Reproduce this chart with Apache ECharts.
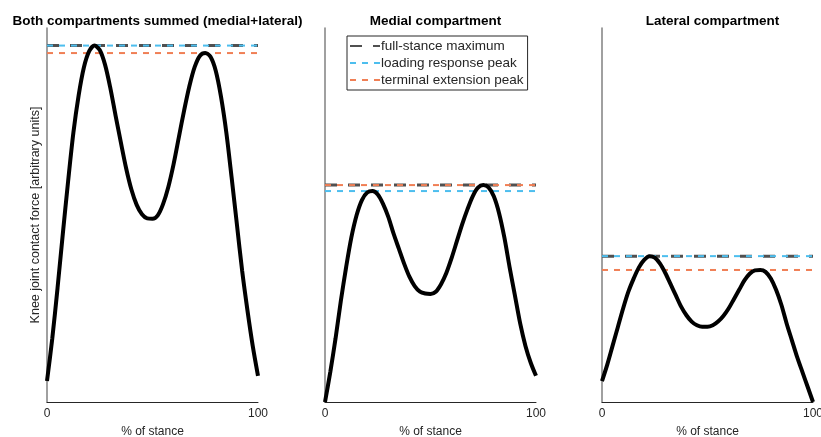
<!DOCTYPE html>
<html>
<head>
<meta charset="utf-8">
<script src="https://cdn.jsdelivr.net/npm/echarts@6/dist/echarts.min.js"></script>
<style>
  html, body { margin: 0; padding: 0; background: #fff; overflow: hidden; }
  #chart { width: 821px; height: 437px; }
</style>
</head>
<body>
<div id="chart"></div>
<script>
// Percent of stance at which each force sample is taken
const stance = [0, 2.5, 5, 7.5, 10, 12.5, 15, 17.5, 20, 22.5, 25, 27.5, 30, 32.5, 35, 37.5, 40,
  42.5, 45, 47.5, 50, 52.5, 55, 57.5, 60, 62.5, 65, 67.5, 70, 72.5, 75, 77.5, 80, 82.5, 85,
  87.5, 90, 92.5, 95, 97.5, 100];

// Knee joint contact force (arbitrary units)
const summedForce = [5.6, 17.0, 30.5, 45.0, 59.0, 72.0, 82.0, 89.5, 93.8, 95.3, 94.1, 90.2, 84.0,
  76.6, 69.4, 62.5, 56.8, 52.7, 50.2, 49.1, 49.0, 49.9, 52.9, 57.5, 63.6, 70.8, 78.0, 84.5, 89.6,
  92.6, 93.3, 92.3, 88.5, 81.5, 72.0, 60.0, 47.5, 35.0, 24.5, 15.0, 7.0];
const medialForce = [0, 8, 17, 27, 36, 44, 50, 54, 56, 56.4, 55.5, 53, 49.5, 45, 41, 37, 33.5,
  31, 29.5, 29, 28.9, 29.5, 31.5, 34.5, 38.5, 43, 47.5, 51.5, 55, 57.3, 58, 57.4, 55, 50.5, 44,
  36, 28.5, 21, 15, 10.5, 7];
const lateralForce = [5.6, 10, 15, 20, 25, 29.5, 33, 36, 38, 39, 38.6, 37, 34.5, 31.5, 28.5,
  25.5, 23.2, 21.5, 20.5, 20.1, 20.1, 20.5, 21.5, 23, 25, 27.5, 30, 32.5, 34.3, 35.2, 35.3, 34.8,
  33, 30, 26, 21, 16.5, 12, 8, 4, 0];

// Reference levels per panel: [summed, medial, lateral]
const fullStanceMax = [95.3, 58.0, 39.0];
const loadingResponsePeak = [95.3, 56.4, 39.0];
const terminalExtensionPeak = [93.3, 58.0, 35.3];

const panelTitles = ['Both compartments summed (medial+lateral)', 'Medial compartment', 'Lateral compartment'];
const xTickLabels = ['0', '100'];
const xAxisTitle = '% of stance';
const yAxisTitle = 'Knee joint contact force [arbitrary units]';
const legendNames = ['full-stance maximum', 'loading response peak', 'terminal extension peak'];

const curves = [summedForce, medialForce, lateralForce];
const FONT = 'Liberation Sans, Arial, Helvetica, sans-serif';
const panelLeft = [47, 325, 602];
const panelWidth = 211;

const grids = [], xAxes = [], yAxes = [], series = [], titles = [];

panelLeft.forEach((left, i) => {
  grids.push({
    left: left, width: panelWidth, top: 28, bottom: 35,
    containLabel: false, outerBoundsMode: 'none'
  });
  titles.push({
    text: panelTitles[i],
    left: left + panelWidth / 2,
    top: 9,
    textAlign: 'center',
    textStyle: { fontFamily: FONT, fontSize: 13.5, fontWeight: 'bold', color: '#000' }
  });
  xAxes.push({
    type: 'value', gridIndex: i, min: 0, max: 100, interval: 100,
    name: xAxisTitle, nameLocation: 'middle', nameGap: 24,
    nameTextStyle: { fontFamily: FONT, fontSize: 12, color: '#262626' },
    axisLine: { lineStyle: { color: '#262626', width: 1 } },
    axisTick: { show: false },
    splitLine: { show: false },
    axisLabel: {
      fontFamily: FONT, fontSize: 12, color: '#262626', margin: 6,
      formatter: v => (v === 0 ? xTickLabels[0] : xTickLabels[1])
    }
  });
  yAxes.push({
    type: 'value', gridIndex: i, min: 0, max: 100,
    name: i === 0 ? yAxisTitle : '', nameLocation: 'middle', nameGap: 5, nameRotate: 90,
    nameTextStyle: { fontFamily: FONT, fontSize: 12.5, color: '#262626' },
    axisLine: { show: true, onZero: false, lineStyle: { color: '#808080', width: 1.5 } },
    axisTick: { show: false },
    axisLabel: { show: false },
    splitLine: { show: false }
  });

  const levelLine = (name, val, color, width, dash, z) => ({
    name: name, type: 'line', xAxisIndex: i, yAxisIndex: i,
    data: [[0, val], [100, val]], symbol: 'none', silent: true, z: z,
    lineStyle: { color: color, width: width, type: dash },
    itemStyle: { color: color }
  });
  series.push(levelLine(legendNames[0], fullStanceMax[i], '#505050', 3, [12, 11], 3));
  series.push(levelLine(legendNames[1], loadingResponsePeak[i], '#4DBEEE', 2, [6, 6], 4));
  series.push(levelLine(legendNames[2], terminalExtensionPeak[i], '#F07F55', 2, [6, 6], 5));

  series.push({
    type: 'line', xAxisIndex: i, yAxisIndex: i, smooth: 0.3, symbol: 'none', z: 6,
    data: stance.map((s, k) => [s, curves[i][k]]),
    lineStyle: { color: '#000', width: 4 }
  });
});

const chart = echarts.init(document.getElementById('chart'), null, { renderer: 'canvas' });
chart.setOption({
  animation: false,
  backgroundColor: '#fff',
  title: titles,
  grid: grids,
  xAxis: xAxes,
  yAxis: yAxes,
  legend: {
    data: legendNames,
    orient: 'vertical',
    left: 347, top: 36,
    itemWidth: 30, itemHeight: 12, itemGap: 3,
    padding: [3, 4, 3, 2],
    borderColor: '#262626', borderWidth: 1,
    backgroundColor: '#fff',
    itemStyle: { opacity: 0 },
    textStyle: { fontFamily: FONT, fontSize: 13.5, color: '#262626', padding: [0, 0, 0, -4] }
  },
  series: series
});
</script>
</body>
</html>
